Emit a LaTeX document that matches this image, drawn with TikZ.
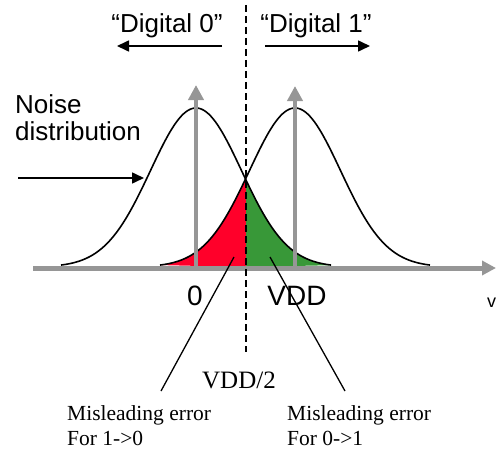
\documentclass[tikz,border=0pt]{standalone}
\usepackage{fontspec}
\setmainfont{Liberation Serif}
\newfontfamily\arialfont{Liberation Sans}
\usetikzlibrary{arrows.meta}
\definecolor{levelgray}{RGB}{150,150,150}
\definecolor{errred}{RGB}{255,0,42}
\definecolor{errgreen}{RGB}{56,152,56}

\begin{document}
\begin{tikzpicture}[x=1pt,y=-1pt,
    declare function={noiseL(\x)=267-159*exp(-0.5*((\x-196)/45.5)^2);
                      noiseR(\x)=267-159*exp(-0.5*((\x-295)/45.5)^2);},
    sanslabel/.style={font=\arialfont\fontsize{26}{30}\selectfont, inner sep=0pt},
    seriflabel/.style={font=\fontsize{21.5}{25}\selectfont, inner sep=0pt, align=left},
    pointer/.style={draw=black, line width=1.6pt, -{Triangle[length=12pt,width=11pt]}},
    leader/.style={draw=black, line width=1.3pt}]
  \useasboundingbox (0,0) rectangle (498,452);

  % error areas
  \fill[errred] plot[domain=160:246, samples=60] (\x,{noiseR(\x)}) -- (246,267) -- cycle;
  \fill[errgreen] plot[domain=246:332, samples=60] (\x,{noiseL(\x)}) -- (246,267) -- cycle;

  % noise distributions
  \draw[line width=1.6pt] plot[domain=61:331, samples=120] (\x,{noiseL(\x)});
  \draw[line width=1.6pt] plot[domain=160:430, samples=120] (\x,{noiseR(\x)});

  % levels and axis
  \coordinate (zerofoot) at (196,267);  \coordinate (zerotip) at (196,85);
  \coordinate (vddfoot) at (295,267);   \coordinate (vddtip) at (295,86);
  \coordinate (axisstart) at (33,268);  \coordinate (axisend) at (496,268);
  \draw[levelgray, line width=4.5pt, -{Triangle[length=15pt,width=15pt]}] (zerofoot) -- (zerotip);
  \draw[levelgray, line width=4.5pt, -{Triangle[length=15pt,width=15pt]}] (vddfoot) -- (vddtip);
  \draw[levelgray, line width=5pt, -{Triangle[length=14pt,width=14pt]}] (axisstart) -- (axisend);

  % threshold
  \coordinate (thrtop) at (246,5);
  \coordinate (thrbot) at (246,352);
  \draw[line width=1.5pt, dash pattern=on 7pt off 4pt] (thrtop) -- (thrbot);

  % labels
  \node[sanslabel, anchor=base] (digzero) at (167,33) {“Digital 0”};
  \node[sanslabel, anchor=base] (digone) at (316,33) {“Digital 1”};
  \coordinate (zerostart) at (222,46); \coordinate (zeroend) at (117,46);
  \coordinate (onestart) at (265,46);  \coordinate (oneend) at (370,46);
  \draw[pointer] (zerostart) -- (zeroend);
  \draw[pointer] (onestart) -- (oneend);

  \node[sanslabel, font=\arialfont\fontsize{26}{27}\selectfont, anchor=north west, align=left] (noise) at (15,94) {Noise\\distribution};
  \coordinate (noisestart) at (18,178); \coordinate (noiseend) at (144,178);
  \draw[pointer] (noisestart) -- (noiseend);

  \node[sanslabel, font=\arialfont\fontsize{28}{30}\selectfont, anchor=base] (zerolabel) at (195,305) {0};
  \node[sanslabel, font=\arialfont\fontsize{28}{30}\selectfont, anchor=base] (vddlabel) at (297,305) {VDD};
  \node[sanslabel, font=\arialfont\fontsize{18}{20}\selectfont, anchor=base] (vlabel) at (491.5,307) {v};

  \node[seriflabel, font=\fontsize{25}{28}\selectfont, anchor=base] (halfvdd) at (239,388) {VDD/2};
  \node[seriflabel, anchor=north west] (errone) at (67,405.8) {Misleading error\\For 1->0};
  \node[seriflabel, anchor=north west] (errzero) at (287,405.8) {Misleading error\\For 0->1};

  % leaders
  \coordinate (redfoot) at (161,391);   \coordinate (redtip) at (234,257);
  \coordinate (greenfoot) at (345,391); \coordinate (greentip) at (270,257);
  \draw[leader] (redfoot) -- (redtip);
  \draw[leader] (greenfoot) -- (greentip);
\end{tikzpicture}
\end{document}
